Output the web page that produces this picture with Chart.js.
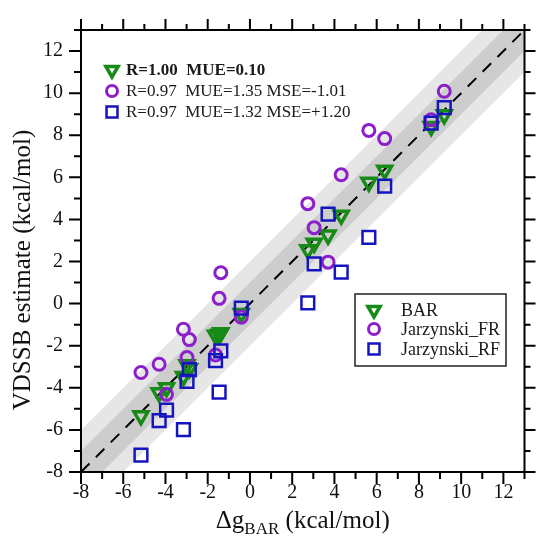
<!DOCTYPE html>
<html>
<head>
<meta charset="utf-8">
<script src="https://cdn.jsdelivr.net/npm/chart.js@4.4.1/dist/chart.umd.min.js"></script>
<style>
  html, body { margin: 0; padding: 0; background: #fff; }
  #wrap { width: 536px; height: 540px; }
</style>
</head>
<body>
<div id="wrap"><canvas id="vdssbChart" width="536" height="540"></canvas></div>
<script>
// dg_BAR per compound (shared x for all three series)
const dgBar = [9.20, 8.58, 6.38, 5.63, 4.32, 3.70, 3.04, 2.74, -0.41, -1.38, -1.46, -1.63, -2.87, -2.98, -3.15, -3.95, -4.30, -5.16];
// VDSSB estimates
const barEst = [8.97, 8.42, 6.34, 5.77, 4.20, 3.26, 2.87, 2.56, -0.47, -1.38, -1.45, -1.50, -3.10, -2.90, -3.46, -4.00, -4.24, -5.33];
const frEst  = [10.09, 8.73, 7.84, 8.23, 6.12, 1.97, 3.61, 4.75, -0.64, 1.47, 0.25, -2.44, -1.71, -2.56, -1.22, -4.31, -2.88, -3.27];
const rfEst  = [9.31, 8.58, 5.58, 3.15, 1.50, 4.25, 1.89, 0.03, -0.21, -2.24, -4.20, -2.71, -3.14, -3.69, -5.99, -5.06, -5.56, -7.20];

const seriesNames = ['BAR', 'Jarzynski_FR', 'Jarzynski_RF'];
const statLines = ['R=1.00  MUE=0.10', 'R=0.97  MUE=1.35 MSE=-1.01', 'R=0.97  MUE=1.32 MSE=+1.20'];

const axisMin = -8, axisMax = 13;
const diagX = [axisMin, axisMax];
const bandInner = 1, bandOuter = 2;

const GREEN = '#178a17', PURPLE = '#8c1ecb', BLUE = '#1515bf';
const SERIF = '"Liberation Serif", "Times New Roman", serif';

function pts(ys) { return dgBar.map((x, i) => ({x: x, y: ys[i]})); }
function line(off) { return diagX.map(x => ({x: x, y: x + off})); }

// small marker painter for the legends
function marker(ctx, kind, x, y) {
  ctx.save();
  ctx.lineWidth = kind === 'tri' ? 3.5 : 3;
  if (kind === 'tri') {
    ctx.strokeStyle = GREEN;
    ctx.beginPath();
    ctx.moveTo(x, y + 7);
    ctx.lineTo(x - 6.1, y - 3.5);
    ctx.lineTo(x + 6.1, y - 3.5);
    ctx.closePath();
    ctx.stroke();
  } else if (kind === 'circ') {
    ctx.strokeStyle = PURPLE;
    ctx.beginPath();
    ctx.arc(x, y, 5.5, 0, Math.PI * 2);
    ctx.stroke();
  } else {
    ctx.strokeStyle = BLUE;
    ctx.lineWidth = 2.5;
    ctx.strokeRect(x - 5.5, y - 5.5, 11, 11);
  }
  ctx.restore();
}

const decor = {
  id: 'decor',
  afterDraw(chart) {
    const ctx = chart.ctx;
    const a = chart.chartArea;
    const xs = chart.scales.x, ys = chart.scales.y;
    ctx.save();
    ctx.strokeStyle = '#000';
    ctx.lineWidth = 2;
    ctx.strokeRect(a.left, a.top, a.right - a.left, a.bottom - a.top);
    ctx.beginPath();
    for (let v = axisMin; v <= axisMax; v++) {
      const len = v % 2 === 0 ? 12 : 7;
      const px = xs.getPixelForValue(v);
      ctx.moveTo(px, a.bottom); ctx.lineTo(px, a.bottom + len);
      ctx.moveTo(px, a.top); ctx.lineTo(px, a.top - len + 1);
      const py = ys.getPixelForValue(v);
      ctx.moveTo(a.left, py); ctx.lineTo(a.left - len, py);
      ctx.moveTo(a.right, py); ctx.lineTo(a.right + len - 1, py);
    }
    ctx.stroke();

    // axis titles
    ctx.fillStyle = '#111';
    ctx.textBaseline = 'alphabetic';
    const main = 25, sub = 17;
    const p1 = '\u0394g', p2 = 'BAR', p3 = ' (kcal/mol)';
    ctx.font = main + 'px ' + SERIF;
    const w1 = ctx.measureText(p1).width, w3 = ctx.measureText(p3).width;
    ctx.font = sub + 'px ' + SERIF;
    const w2 = ctx.measureText(p2).width;
    let tx = (a.left + a.right) / 2 - (w1 + w2 + w3) / 2;
    const ty = 528;
    ctx.textAlign = 'left';
    ctx.font = main + 'px ' + SERIF;
    ctx.fillText(p1, tx, ty);
    ctx.font = sub + 'px ' + SERIF;
    ctx.fillText(p2, tx + w1, ty + 6);
    ctx.font = main + 'px ' + SERIF;
    ctx.fillText(p3, tx + w1 + w2, ty);

    ctx.save();
    ctx.translate(30, 270);
    ctx.rotate(-Math.PI / 2);
    ctx.textAlign = 'center';
    ctx.font = '25px ' + SERIF;
    ctx.fillText('VDSSB estimate (kcal/mol)', 0, 0);
    ctx.restore();

    // stats legend, top left
    const kinds = ['tri', 'circ', 'sq'];
    const rows1 = [70, 91, 112];
    ctx.textAlign = 'left';
    ctx.textBaseline = 'middle';
    ctx.fillStyle = '#1a1a1a';
    statLines.forEach((s, i) => {
      marker(ctx, kinds[i], 112, rows1[i]);
      ctx.font = (i === 0 ? 'bold ' : '') + '17px ' + SERIF;
      ctx.fillText(s, 126, rows1[i] + 1);
    });

    // series legend box
    ctx.fillStyle = '#fff';
    ctx.fillRect(355, 294, 151, 72);
    ctx.strokeStyle = '#222';
    ctx.lineWidth = 1.5;
    ctx.strokeRect(355, 294, 151, 72);
    const rows2 = [310, 329, 349];
    ctx.fillStyle = '#1a1a1a';
    ctx.font = '18px ' + SERIF;
    seriesNames.forEach((s, i) => {
      marker(ctx, kinds[i], 374, rows2[i]);
      ctx.fillText(s, 401, rows2[i] + 1);
    });
    ctx.restore();
  }
};

new Chart('vdssbChart', {
  type: 'scatter',
  data: {
    datasets: [
      {label: seriesNames[2], data: pts(rfEst), order: 0, pointStyle: 'rect', pointRadius: 9,
       borderColor: BLUE, backgroundColor: 'rgba(0,0,0,0)', borderWidth: 2.5},
      {label: seriesNames[1], data: pts(frEst), order: 1, pointStyle: 'circle', pointRadius: 6,
       borderColor: PURPLE, backgroundColor: 'rgba(0,0,0,0)', borderWidth: 3},
      {label: seriesNames[0], data: pts(barEst), order: 2, pointStyle: 'triangle', rotation: 180, pointRadius: 8,
       borderColor: GREEN, backgroundColor: 'rgba(0,0,0,0)', borderWidth: 3.5},
      {type: 'line', data: line(0), order: 3, borderColor: '#000', borderWidth: 2, borderDash: [12, 9],
       pointRadius: 0, fill: false},
      {type: 'line', data: line(bandInner), order: 4, borderWidth: 0, pointRadius: 0,
       backgroundColor: '#cdcdcd', fill: '+1'},
      {type: 'line', data: line(-bandInner), order: 5, borderWidth: 0, pointRadius: 0, fill: false},
      {type: 'line', data: line(bandOuter), order: 6, borderWidth: 0, pointRadius: 0,
       backgroundColor: '#e6e6e6', fill: '+1'},
      {type: 'line', data: line(-bandOuter), order: 7, borderWidth: 0, pointRadius: 0, fill: false}
    ]
  },
  options: {
    responsive: false,
    animation: false,
    events: [],
    layout: {padding: {left: 0, right: 9, top: 24, bottom: 0}},
    plugins: {legend: {display: false}, tooltip: {enabled: false}},
    scales: {
      x: {
        type: 'linear', min: axisMin, max: axisMax,
        grid: {display: false, drawTicks: false}, border: {display: false},
        ticks: {stepSize: 2, includeBounds: false, padding: 9, color: '#111',
                font: {family: SERIF, size: 20}, maxRotation: 0, autoSkip: false},
        afterFit(s) { s.height = 68; }
      },
      y: {
        type: 'linear', min: axisMin, max: axisMax,
        grid: {display: false, drawTicks: false}, border: {display: false},
        ticks: {stepSize: 2, includeBounds: false, padding: 18, color: '#111',
                font: {family: SERIF, size: 20}, autoSkip: false},
        afterFit(s) { s.width = 81; }
      }
    }
  },
  plugins: [decor]
});
</script>
</body>
</html>
